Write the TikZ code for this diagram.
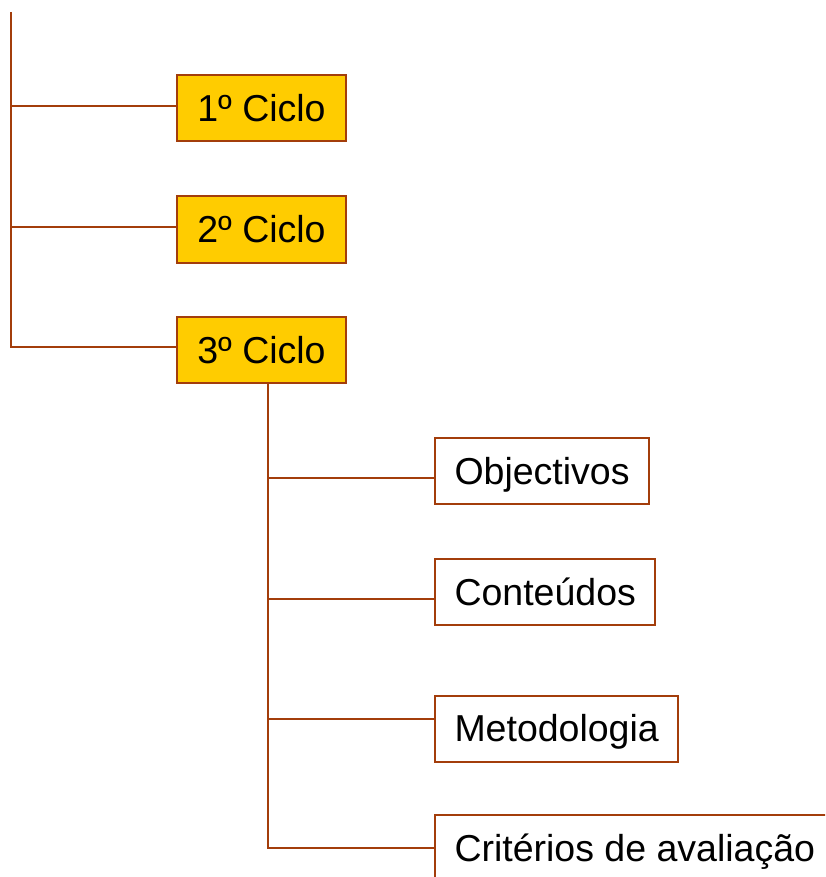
\documentclass[tikz,border=0pt]{standalone}
\usepackage{fontspec}
\setmainfont{Liberation Sans}
\definecolor{linkbrown}{HTML}{A33D0B}
\definecolor{cyclegold}{HTML}{FFCC00}
\tikzset{
  link/.style={draw=linkbrown, line width=2pt},
  cyclebox/.style={draw=linkbrown, line width=2pt, fill=cyclegold,
    minimum width=169pt, minimum height=66pt, inner sep=0pt,
    text height=26.85pt, text depth=0pt,
    font=\fontsize{37.5}{44}\selectfont},
  topicbox/.style={draw=linkbrown, line width=2pt, fill=white, anchor=west,
    minimum height=66pt, inner xsep=19.5pt, inner ysep=0pt,
    text height=26.85pt, text depth=0pt,
    font=\fontsize{37.5}{44}\selectfont},
}
\begin{document}
\begin{tikzpicture}[x=1pt, y=-1pt]
  \clip (0,0) rectangle (825,877);
  % left spine with the three cycles
  \coordinate (root) at (11,12);
  \node[cyclebox] (c1) at (261.5,108.5) {1º Ciclo};
  \node[cyclebox] (c2) at (261.5,229.5) {2º Ciclo};
  \node[cyclebox] (c3) at (261.5,350) {3º Ciclo};
  \draw[link] (root) |- ([yshift=3pt]c3.west);
  \draw[link] (root |- c1.west) ++(0,-2.5) -- ([yshift=2.5pt]c1.west);
  \draw[link] (root |- c2.west) ++(0,-2.5) -- ([yshift=2.5pt]c2.west);
  % topics under the third cycle
  \node[topicbox] (obj) at (434,471) {Objectivos};
  \node[topicbox] (cont) at (434,592) {Conteúdos};
  \node[topicbox] (meto) at (434,728.5) {Metodologia};
  \node[topicbox] (crit) at (434,848) {Critérios de avaliação};
  \coordinate (fork) at ([xshift=6.5pt]c3.south);
  \draw[link] (fork) |- (crit.west);
  \draw[link] (fork |- obj.west) ++(0,7) -- ([yshift=-7pt]obj.west);
  \draw[link] (fork |- cont.west) ++(0,7) -- ([yshift=-7pt]cont.west);
  \draw[link] (fork |- meto.west) ++(0,-10) -- ([yshift=10pt]meto.west);
\end{tikzpicture}
\end{document}
